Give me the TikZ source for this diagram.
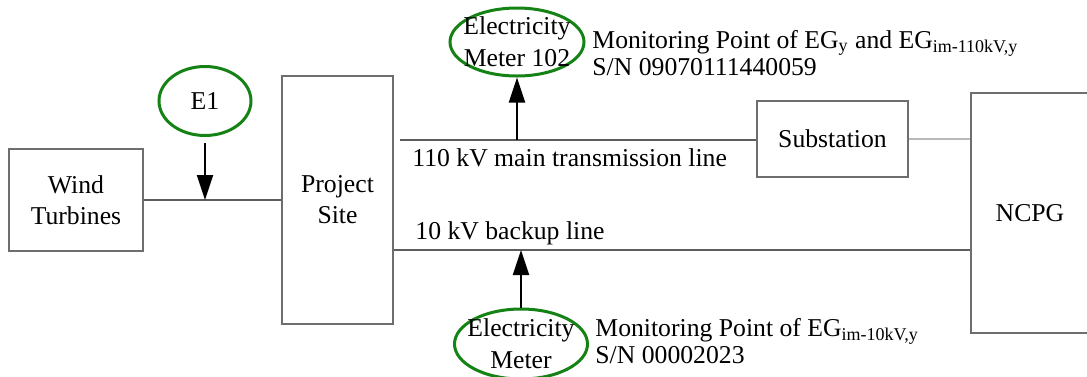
\documentclass[tikz,border=0pt]{standalone}
\usepackage{fontspec}
\setmainfont{Liberation Serif}
\usetikzlibrary{arrows.meta,shapes.geometric}
\definecolor{meterGreen}{RGB}{20,130,20}
\definecolor{boxGray}{RGB}{110,110,110}
\tikzset{
  box/.style={draw=boxGray,line width=0.6pt,align=center,inner sep=0pt},
  meter/.style={ellipse,draw=meterGreen,line width=1.5pt,align=center,inner sep=-8pt,
    font=\fontsize{12.85}{16}\selectfont},
  feed/.style={draw=boxGray!85!black,line width=0.6pt},
  tap/.style={-{Triangle[length=12.5pt,width=8pt]},line width=1pt},
  note/.style={align=left,inner sep=0pt,font=\fontsize{12.85}{12.5}\selectfont},
}
\begin{document}
\begin{tikzpicture}[x=0.5pt,y=-0.5pt,font=\fontsize{12.85}{15.5}\selectfont]
  \useasboundingbox (0,0) rectangle (1087,376);
  \node[box,minimum width=67pt,minimum height=51pt] (turbines) at (76,200) {Wind\\Turbines};
  \node[box,minimum width=55.5pt,minimum height=124pt] (site) at (337.5,200) {Project\\Site};
  \node[box,minimum width=75.5pt,minimum height=38pt] (sub) at (832.5,139) {Substation};
  \node[box,minimum width=59pt,minimum height=120pt] (ncpg) at (1030,213) {NCPG};
  \node[meter,minimum width=46pt,minimum height=34.5pt] (e1) at (205,101) {E1};
  \node[meter,minimum width=67pt,minimum height=34pt] (meterA) at (517,42) {Electricity\\Meter 102};
  \node[meter,minimum width=66.5pt,minimum height=35pt] (meterB) at (521,344) {Electricity\\Meter};
  \node[note,anchor=west] (noteA) at (592,53)
    {Monitoring Point of EG\textsubscript{y} and EG\textsubscript{im-110kV,y}\\S/N 09070111440059};
  \node[note,anchor=west] (noteB) at (595,341)
    {Monitoring Point of EG\textsubscript{im-10kV,y}\\S/N 00002023};
  \coordinate (mainW) at (400,140);
  \coordinate (backup) at (600,250);
  \draw[feed] (turbines.east) -- (site.west);
  \draw[feed] (mainW) -- (mainW -| sub.west);
  \draw[feed,draw=gray!55] (sub.east) -- (sub.east -| ncpg.west);
  \draw[feed] (site.east |- backup) -- (ncpg.west |- backup);
  \node[anchor=base west,inner sep=0pt] (mainlbl) at (412,166) {110 kV main transmission line};
  \node[anchor=base west,inner sep=0pt] (backlbl) at (415,239) {10 kV backup line};
  \draw[tap,shorten <=3pt] (e1.south) -- (e1.south |- turbines.east);
  \draw[tap] (meterA.south |- mainW) -- (meterA.south);
  \draw[tap] (meterB.north) -- (meterB.north |- backup);
\end{tikzpicture}
\end{document}
